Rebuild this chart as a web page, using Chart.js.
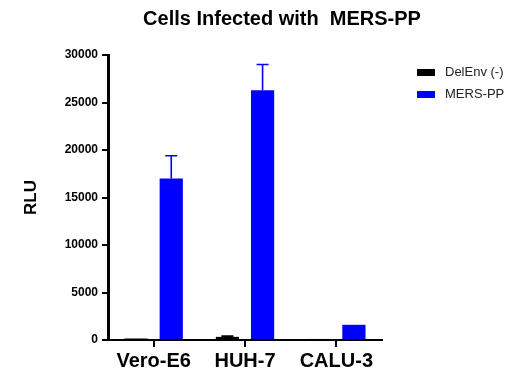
<!DOCTYPE html>
<html lang="en">
<head>
<meta charset="UTF-8" />
<title>Cells Infected with MERS-PP</title>
<style>
    body { margin: 0; background: #fff; }
    #wrap { width: 519px; height: 375px; }
</style>
<script src="https://cdn.jsdelivr.net/npm/chart.js"></script>
</head>
<body>
<div id="wrap"><canvas id="rluChart" width="519" height="375"></canvas></div>
<script>
    const cellLines = ["Vero-E6", "HUH-7", "CALU-3"];
    const delEnvValues = [160, 330, 110];
    const delEnvErrors = [0, 80, 0];
    const mersValues = [17000, 26300, 1600];
    const mersErrors = [2400, 2700, 0];
    const yMax = 30000;
    const yStep = 5000;

    const FONT = "'Liberation Sans', Arial, sans-serif";

    // error bars (upper only), drawn from the bar elements + y scale
    const errorBars = {
        id: "errorBars",
        afterDatasetsDraw(chart) {
            const ctx = chart.ctx;
            const yScale = chart.scales.y;
            chart.data.datasets.forEach((ds, i) => {
                chart.getDatasetMeta(i).data.forEach((bar, j) => {
                    const err = ds.errors[j];
                    if (!err) return;
                    const top = yScale.getPixelForValue(ds.data[j] + err);
                    ctx.save();
                    ctx.strokeStyle = ds.backgroundColor;
                    ctx.lineWidth = 1.6;
                    ctx.beginPath();
                    ctx.moveTo(bar.x, bar.y);
                    ctx.lineTo(bar.x, top);
                    ctx.moveTo(bar.x - 6, top);
                    ctx.lineTo(bar.x + 6, top);
                    ctx.stroke();
                    ctx.restore();
                });
            });
        }
    };

    // title + legend placed like the original figure
    const titleAndLegend = {
        id: "titleAndLegend",
        afterDraw(chart) {
            const ctx = chart.ctx;
            const area = chart.chartArea;
            ctx.save();
            ctx.fillStyle = "#000";
            ctx.font = "bold 20px " + FONT;
            ctx.textAlign = "center";
            ctx.textBaseline = "middle";
            ctx.fillText("Cells Infected with  MERS-PP", area.left + 174, 19);

            ctx.font = "13px " + FONT;
            ctx.textAlign = "left";
            chart.data.datasets.forEach((ds, i) => {
                const y = area.top + 17 + i * 22;
                ctx.fillStyle = ds.backgroundColor;
                ctx.fillRect(area.right + 35, y - 3, 18, 7);
                ctx.fillStyle = "#222";
                ctx.fillText(ds.label, area.right + 63, y);
            });
            ctx.restore();
        }
    };

    new Chart(document.getElementById("rluChart").getContext("2d"), {
        type: "bar",
        data: {
            labels: cellLines,
            datasets: [
                {
                    label: "DelEnv (-)",
                    data: delEnvValues,
                    errors: delEnvErrors,
                    backgroundColor: "#000000",
                },
                {
                    label: "MERS-PP",
                    data: mersValues,
                    errors: mersErrors,
                    backgroundColor: "#0000ff",
                },
            ],
        },
        options: {
            responsive: false,
            animation: false,
            layout: { padding: { top: 55, right: 137, bottom: 0, left: 0 } },
            datasets: {
                bar: { categoryPercentage: 0.77, barPercentage: 0.66 },
            },
            plugins: {
                legend: { display: false },
                title: { display: false },
                tooltip: { enabled: false },
            },
            scales: {
                x: {
                    grid: {
                        offset: false,
                        drawOnChartArea: false,
                        tickLength: 7,
                        lineWidth: 2,
                        color: "#000",
                    },
                    border: { color: "#000", width: 2 },
                    ticks: {
                        color: "#000",
                        padding: 2,
                        font: { family: FONT, size: 20, weight: "bold" },
                    },
                },
                y: {
                    min: 0,
                    max: yMax,
                    afterFit(scale) { scale.width = 108; },
                    grid: {
                        drawOnChartArea: false,
                        tickLength: 6,
                        lineWidth: 2,
                        color: "#000",
                    },
                    border: { color: "#000", width: 3 },
                    ticks: {
                        stepSize: yStep,
                        color: "#000",
                        padding: 4,
                        callback: (v) => String(v),
                        font: { family: FONT, size: 12, weight: "bold" },
                    },
                    title: {
                        display: true,
                        text: "RLU",
                        color: "#000",
                        padding: { top: 21, bottom: 0 },
                        font: { family: FONT, size: 17, weight: "bold" },
                    },
                },
            },
        },
        plugins: [errorBars, titleAndLegend],
    });
</script>
</body>
</html>
